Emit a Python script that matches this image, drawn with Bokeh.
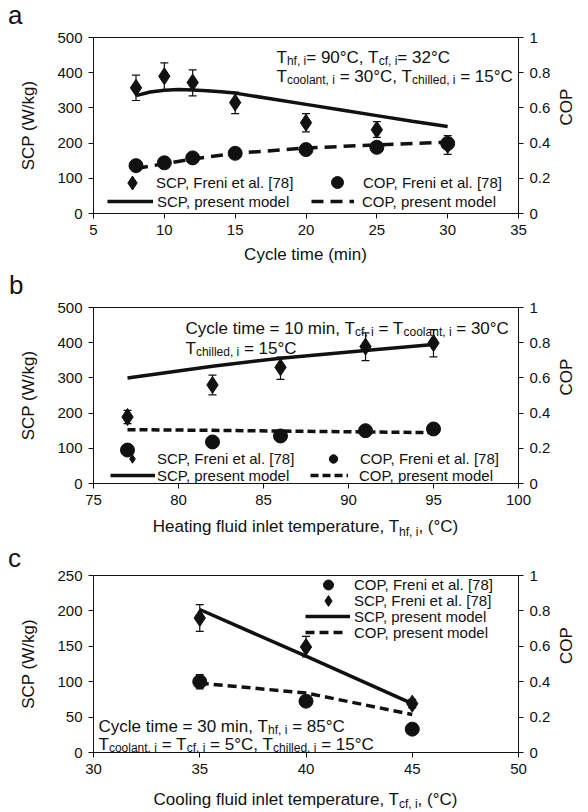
import math
from bokeh.plotting import figure
from bokeh.models import (Range1d, LinearAxis, FixedTicker, CustomJSTickFormatter, Label,
                          Legend, LegendItem, Whisker, TeeHead, ColumnDataSource, Div)
from bokeh.layouts import column
from bokeh.embed import file_html
from bokeh.resources import INLINE

# ---------------- data: panel a ----------------
a_time = [8, 10, 12, 15, 20, 25, 30]
a_scp_exp = [357, 390, 372, 315, 258, 238, 195]
a_scp_lo = [321, 352, 334, 284, 232, 216, 168]
a_scp_hi = [393, 428, 408, 345, 284, 261, 221]
a_cop_exp = [0.272, 0.288, 0.316, 0.342, 0.363, 0.376, 0.398]
a_model_time_scp = [8, 9, 10, 11, 12, 13, 14, 15, 17.5, 20, 22.5, 25, 27.5, 30]
a_model_scp = [335, 345, 350, 352, 351, 349, 346, 342, 326, 310, 294, 278, 262, 247]
a_model_time_cop = [8, 10, 12, 15, 20, 25, 30]
a_model_cop = [0.255, 0.283, 0.31, 0.342, 0.372, 0.39, 0.405]

# ---------------- data: panel b ----------------
b_temp = [77, 82, 86, 91, 95]
b_scp_exp = [189, 280, 330, 389, 399]
b_scp_lo = [170, 252, 296, 349, 360]
b_scp_hi = [208, 308, 359, 428, 437]
b_cop_exp = [0.19, 0.236, 0.27, 0.30, 0.31]
b_model_scp = [300, 333, 356, 378, 395]
b_model_cop = [0.306, 0.302, 0.298, 0.293, 0.289]

# ---------------- data: panel c ----------------
c_temp = [35, 40, 45]
c_scp_exp = [190, 149, 69]
c_scp_lo = [171, 135, 63]
c_scp_hi = [209, 164, 75]
c_cop_exp = [0.40, 0.29, 0.132]
c_cop_lo = [0.36, 0.29, 0.132]
c_cop_hi = [0.44, 0.29, 0.132]
c_model_scp = [202, 136, 69]
c_model_cop = [0.392, 0.336, 0.215]

# tick values
a_xticks = [5, 10, 15, 20, 25, 30, 35]
b_xticks = [75, 80, 85, 90, 95, 100]
c_xticks = [30, 35, 40, 45, 50]
ab_yticks = [0, 100, 200, 300, 400, 500]
c_yticks = [0, 50, 100, 150, 200, 250]
cop_ticks = [0, 0.2, 0.4, 0.6, 0.8, 1]

K = "#111111"
FONT = "Liberation Sans"

AW = {' ': 278, '(': 333, ')': 333, ',': 278, '.': 278, '/': 278, '=': 584, '[': 278, ']': 278,
      '°': 400, 'A': 667, 'C': 722, 'F': 611, 'H': 722, 'O': 778, 'P': 667, 'S': 667, 'T': 611,
      'W': 944, 'a': 556, 'c': 500, 'd': 556, 'e': 556, 'f': 278, 'g': 556, 'h': 556, 'i': 222,
      'k': 500, 'l': 222, 'm': 833, 'n': 556, 'o': 556, 'p': 556, 'r': 333, 's': 500, 't': 278,
      'u': 556, 'y': 500}
for d in "0123456789":
    AW[d] = 556


def tw(s, fs):
    return sum(AW.get(ch, 556) for ch in s) * fs / 1000.0


def rich(p, xo, yo, segs, fs=17, sub=12, drop=3.5):
    """In-frame text with subscripts; offsets in px from the frame's bottom-left corner."""
    cur = xo
    for t, s in segs:
        size = sub if s else fs
        lead = len(t) - len(t.lstrip(" "))
        txt = t.strip(" ")
        if txt:
            p.add_layout(Label(x=p.x_range.start, y=p.y_range.start,
                               x_offset=cur + tw(" " * lead, size),
                               y_offset=yo - (drop if s else 0), text=txt,
                               text_font=FONT, text_font_size=f"{size}px", text_color=K,
                               text_baseline="alphabetic", text_align="left"))
        cur += tw(t, size)


def html_segs(segs, sub=12, drop=3.5):
    out = ""
    for t, s in segs:
        if s:
            out += (f'<span style="font-size:{sub}px;position:relative;top:{drop}px;'
                    f'line-height:1;">{t}</span>')
        else:
            out += t
    return out


def text_div(height, items):
    """items: (left, top, html, font_px, centered)"""
    spans = ""
    for left, top, html, fs, centered in items:
        tr = "transform:translateX(-50%);" if centered else ""
        spans += (f'<span style="position:absolute;left:{left}px;top:{top}px;{tr}'
                  f'font-size:{fs}px;line-height:1;white-space:nowrap;">{html}</span>')
    html = (f'<div style="position:relative;width:588px;height:{height}px;'
            f"font-family:'{FONT}';color:{K};\">{spans}</div>")
    return Div(text=html, width=588, height=height, margin=0)


def make_fig(h, top, bottom, xr, yr, xticks, yticks):
    p = figure(width=588, height=h, x_range=Range1d(*xr), y_range=Range1d(*yr),
               output_backend="svg", toolbar_location=None,
               min_border_left=93, min_border_right=70, min_border_top=top,
               min_border_bottom=bottom)
    p.title.visible = False
    p.xgrid.visible = False
    p.ygrid.visible = False
    p.extra_y_ranges = {"cop": Range1d(0, 1)}
    right = LinearAxis(y_range_name="cop", ticker=FixedTicker(ticks=cop_ticks),
                       formatter=CustomJSTickFormatter(code="return String(Math.round(tick*10)/10);"))
    p.add_layout(right, "right")
    p.xaxis.ticker = FixedTicker(ticks=xticks)
    p.yaxis[0].ticker = FixedTicker(ticks=yticks)
    for ax in p.axis:
        ax.axis_line_color = K
        ax.axis_line_width = 1
        ax.major_tick_line_color = K
        ax.major_tick_out = 5
        ax.major_tick_in = 0
        ax.minor_tick_out = 0
        ax.minor_tick_in = 0
        ax.major_label_standoff = 6
        ax.major_label_text_font = FONT
        ax.major_label_text_font_size = "15px"
        ax.major_label_text_color = K
        ax.axis_label_text_font = FONT
        ax.axis_label_text_font_size = "17px"
        ax.axis_label_text_font_style = "normal"
        ax.axis_label_text_color = K
    p.yaxis[0].axis_label = "SCP (W/kg)"
    p.yaxis[0].axis_label_standoff = 16
    right.axis_label = "COP"
    right.axis_label_standoff = 13
    if "axis_label_orientation" in right.properties():
        right.axis_label_orientation = math.pi / 2
    p.outline_line_color = K
    p.outline_line_width = 1
    p.outline_line_alpha = 1
    p.background_fill_color = "white"
    p.border_fill_color = "white"
    return p


def whisk(p, xs, lo, hi, yname="default"):
    src = ColumnDataSource(dict(x=xs, lo=lo, hi=hi))
    w = Whisker(source=src, base="x", lower="lo", upper="hi", line_color=K, line_width=1.2,
                upper_head=TeeHead(size=8, line_color=K, line_width=1.2),
                lower_head=TeeHead(size=8, line_color=K, line_width=1.2),
                y_range_name=yname)
    p.add_layout(w)


def leg(p, r, label, x, yc, gw, gh, standoff):
    L = Legend(items=[LegendItem(label=label, renderers=[r])],
               location=(round(x), round(yc - gh / 2.0)),
               orientation="vertical", padding=0, margin=0, spacing=0,
               glyph_width=int(round(gw)), glyph_height=int(round(gh)),
               label_height=int(round(gh)), label_width=10,
               label_standoff=int(round(standoff)), label_text_font=FONT,
               label_text_font_size="15px",
               label_text_color=K, border_line_alpha=0, background_fill_alpha=0)
    p.add_layout(L)


# ================= panel a =================
pa = make_fig(217, 10, 31, (5, 35), (0, 500), a_xticks, ab_yticks)
whisk(pa, a_time, a_scp_lo, a_scp_hi)
ra_line = pa.line(a_model_time_scp, a_model_scp, line_color=K, line_width=3.5)
ra_dash = pa.line(a_model_time_cop, a_model_cop, y_range_name="cop", line_color=K,
                  line_width=3.5, line_dash="12 7")
ra_dia = pa.scatter(a_time, a_scp_exp, marker="diamond", size=17, color=K)
ra_cir = pa.scatter(a_time, a_cop_exp, y_range_name="cop", marker="circle", size=14, color=K)
leg(pa, ra_dia, "SCP, Freni et al. [78]", 17, 30.6, 44, 35, 2)
leg(pa, ra_line, "SCP, present model", 14, 11.6, 46, 20, 4)
leg(pa, ra_cir, "COP, Freni et al. [78]", 222, 30.6, 44, 30, 4)
leg(pa, ra_dash, "COP, present model", 218, 11.6, 43, 20, 8)
rich(pa, 183, 156, [("T", False), ("hf, i", True), ("= 90°C, T", False), ("cf, i", True),
                    ("= 32°C", False)])
rich(pa, 183, 137.3, [("T", False), ("coolant, i", True), (" = 30°C, T", False),
                      ("chilled, i", True), (" = 15°C", False)])

# ================= panel b =================
pb = make_fig(217, 10, 31, (75, 100), (0, 500), b_xticks, ab_yticks)
whisk(pb, b_temp, b_scp_lo, b_scp_hi)
rb_line = pb.line(b_temp, b_model_scp, line_color=K, line_width=3.5)
rb_dash = pb.line(b_temp, b_model_cop, y_range_name="cop", line_color=K, line_width=3.5,
                  line_dash="8 4")
rb_dia = pb.scatter(b_temp, b_scp_exp, marker="diamond", size=17, color=K)
rb_cir = pb.scatter(b_temp, b_cop_exp, y_range_name="cop", marker="circle", size=14, color=K)
leg(pb, rb_dia, "SCP, Freni et al. [78]", 16.7, 24, 44, 21, 3)
leg(pb, rb_line, "SCP, present model", 17, 7.5, 45, 20, 2)
leg(pb, rb_cir, "COP, Freni et al. [78]", 217.7, 24, 44, 21, 5)
leg(pb, rb_dash, "COP, present model", 217, 7.5, 38, 20, 11)
rich(pb, 92, 155.3, [("Cycle time = 10 min, T", False), ("cf, i", True), (" = T", False),
                     ("coolant, i", True), (" = 30°C", False)])
rich(pb, 92, 135, [("T", False), ("chilled, i", True), (" = 15°C", False)])

# ================= panel c =================
pc = make_fig(215, 8, 30, (30, 50), (0, 250), c_xticks, c_yticks)
whisk(pc, c_temp, c_scp_lo, c_scp_hi)
whisk(pc, c_temp, c_cop_lo, c_cop_hi, yname="cop")
rc_line = pc.line(c_temp, c_model_scp, line_color=K, line_width=3.5)
rc_dash = pc.line(c_temp, c_model_cop, y_range_name="cop", line_color=K, line_width=3.5,
                  line_dash="9 5")
rc_dia = pc.scatter(c_temp, c_scp_exp, marker="diamond", size=17, color=K)
rc_cir = pc.scatter(c_temp, c_cop_exp, y_range_name="cop", marker="circle", size=14, color=K)
leg(pc, rc_cir, "COP, Freni et al. [78]", 212.7, 167.3, 44, 25, 4)
leg(pc, rc_dia, "SCP, Freni et al. [78]", 212.7, 151.3, 44, 27, 4)
leg(pc, rc_line, "SCP, present model", 212, 136.3, 45, 20, 4)
leg(pc, rc_dash, "COP, present model", 212, 120, 38, 20, 11)
rich(pc, 5, 25.6, [("Cycle time = 30 min, T", False), ("hf, i", True), (" = 85°C", False)])
rich(pc, 5, 7.8, [("T", False), ("coolant, i", True), (" = T", False), ("cf, i", True),
                  (" = 5°C, T", False), ("chilled, i", True), (" = 15°C", False)])

# ================= texts outside the frames =================
xlab_a = html_segs([("Cycle time (min)", False)])
xlab_b = html_segs([("Heating fluid inlet temperature, T", False), ("hf, i", True),
                    (", (°C)", False)])
xlab_c = html_segs([("Cooling fluid inlet temperature, T", False), ("cf, i", True),
                    (", (°C)", False)])

div_top = text_div(27, [(8, 2, "a", 26, False)])
div_ab = text_div(53, [(305.5, 1.6, xlab_a, 17, True), (9, 28, "b", 26, False)])
div_bc = text_div(53, [(305.5, 4.3, xlab_b, 17, True), (8, 30.7, "c", 26, False)])
div_end = text_div(30, [(305.5, 8.6, xlab_c, 17, True)])

layout = column(div_top, pa, div_ab, pb, div_bc, pc, div_end, spacing=0)
open("out.html", "w").write(file_html(layout, INLINE))
